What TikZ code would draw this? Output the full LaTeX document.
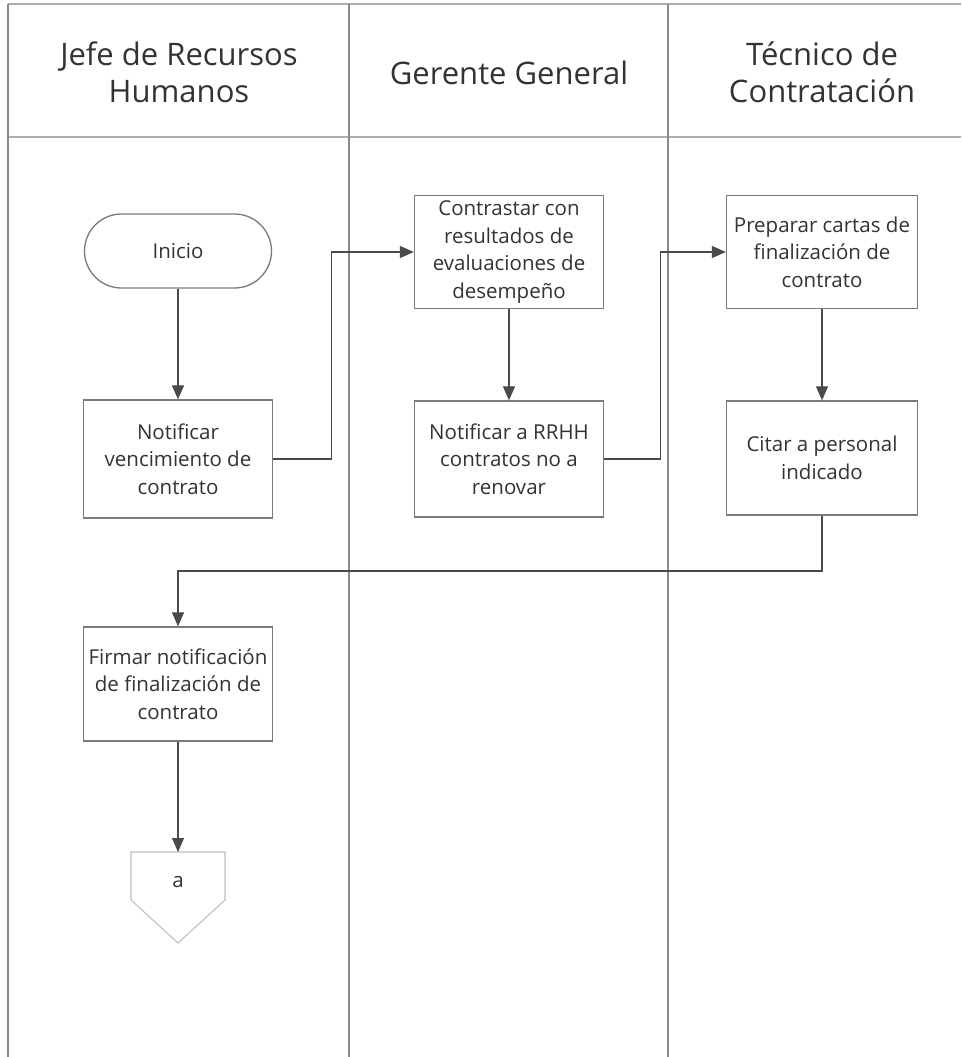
\documentclass[tikz,border=0pt]{standalone}
\usepackage{fontspec}
\setmainfont{Open Sans}
\usetikzlibrary{arrows.meta,shapes.misc}
\definecolor{lane}{HTML}{8A8A8A}
\definecolor{boxline}{HTML}{7A7A7A}
\definecolor{conline}{HTML}{4A4A4A}
\definecolor{txt}{HTML}{333333}
\tikzset{
  lanerule/.style={draw=lane,line width=1.2pt},
  headrule/.style={draw=lane!70,line width=2.6pt},
  lanetitle/.style={align=center,text=txt,font=\fontsize{31}{37}\selectfont},
  procbox/.style={draw=boxline,line width=1.3pt,fill=white,align=center,text=txt,
    minimum width=189,inner sep=1pt,font=\fontsize{20.5}{27.5}\selectfont},
  termbox/.style={procbox,rounded rectangle,minimum height=74},
  conn/.style={draw=conline,line width=1.1pt,-{Triangle[length=14pt,width=12pt]}},
}
\begin{document}
\begin{tikzpicture}[x=1pt,y=-1pt]
\useasboundingbox (0,0) rectangle (961,1057);
% swimlane frame
\draw[headrule] (8,4) -- (961,4);
\draw[headrule] (8,137) -- (961,137);
\draw[lanerule] (8,4) -- (8,1057);
\draw[lanerule] (349,4) -- (349,1057);
\draw[lanerule] (668,4) -- (668,1057);
% lane titles
\node[lanetitle] (h1) at (179,72) {Jefe de Recursos\\Humanos};
\node[lanetitle] (h2) at (509,73) {Gerente General};
\node[lanetitle] (h3) at (822,72) {Técnico de\\Contratación};
% process steps
\node[termbox] (inicio) at (178,251) {Inicio};
\node[procbox,minimum height=118] (n1) at (178,459) {Notificar\\vencimiento de\\contrato};
\node[procbox,minimum height=113] (c1) at (509,252) {Contrastar con\\resultados de\\evaluaciones de\\desempeño};
\node[procbox,minimum height=116] (n2) at (509,459) {Notificar a RRHH\\contratos no a\\renovar};
\node[procbox,minimum width=191,minimum height=113] (p1) at (822,252) {Preparar cartas de\\finalización de\\contrato};
\node[procbox,minimum width=191,minimum height=114] (ci) at (822,458) {Citar a personal\\indicado};
\node[procbox,minimum height=114] (f1) at (178,684) {Firmar notificación\\de finalización de\\contrato};
% off-page connector
\coordinate (atop) at (178,852);
\draw[draw=lane!55,line width=1.1pt,fill=white] (131,852) -- (225,852) -- (225,900) -- (178,943) -- (131,900) -- cycle;
\node[text=txt,font=\fontsize{20.5}{24}\selectfont] (a) at (178,882) {a};
% flow
\draw[conn] (inicio.south) -- (n1.north);
\draw[conn] (n1.east) -- ++(58,0) |- (c1.west);
\draw[conn] (c1.south) -- (n2.north);
\draw[conn] (n2.east) -- ++(56,0) |- (p1.west);
\draw[conn] (p1.south) -- (ci.north);
\draw[conn] (ci.south) -- (ci.south |- 0,571) -| (f1.north);
\draw[conn] (f1.south) -- (atop);
\end{tikzpicture}
\end{document}
